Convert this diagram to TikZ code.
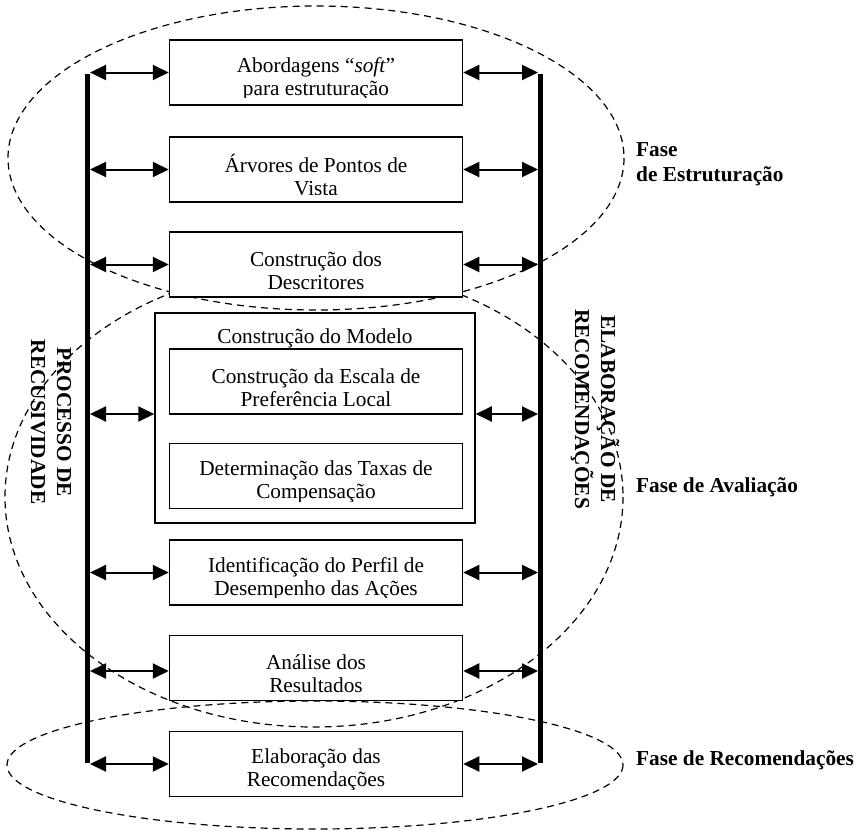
\documentclass[tikz,border=0pt]{standalone}
\usepackage{fontspec}
\setmainfont{Liberation Serif}
\usetikzlibrary{arrows.meta}
\begin{document}
\begin{tikzpicture}[x=1pt,y=-1pt,
  stepbox/.style={draw, line width=1.5pt, fill=white, minimum width=293pt,
    minimum height=65pt, inner sep=0pt},
  steptext/.style={inner sep=0pt, align=center,
    font=\fontsize{21.3}{23}\selectfont},
  modelbox/.style={draw, line width=1.5pt, fill=white, minimum width=320pt,
    minimum height=210pt, inner sep=0pt},
  boxtitle/.style={inner sep=0pt, font=\fontsize{21.3}{23}\selectfont},
  phase/.style={draw, dash pattern=on 7pt off 5pt, line width=1.2pt},
  sidebar/.style={line width=5pt},
  dblarrow/.style={line width=2pt,
    {Triangle[length=16pt,width=15pt]}-{Triangle[length=16pt,width=15pt]}},
  sidetext/.style={rotate=-90, align=center, inner sep=0pt,
    font=\fontsize{21.3}{26}\selectfont\bfseries},
  phaselabel/.style={inner sep=0pt, align=left,
    font=\fontsize{21.3}{25}\selectfont\bfseries}
]
\useasboundingbox (0,0) rectangle (859,830);

% a text set in a step box, cut off a little above the lower edge
\newcommand\boxtext[3]{%
  \begin{scope}
    \clip (#1.north west) rectangle ([yshift=8pt]#1.south east);
    \node[steptext] (#2) at ([yshift=-6pt]#1.center) {#3};
  \end{scope}}

% phase regions
\draw[phase] (316,158) ellipse [x radius=308, y radius=152];
\draw[phase] (314,497) ellipse [x radius=309, y radius=230];
\draw[phase] (315,765) ellipse [x radius=308, y radius=64];

% side labels along the bars
\node[sidetext] (proc) at (51,422) {PROCESSO DE\\RECUSIVIDADE};
\node[sidetext] (elab) at (595,409) {ELABORAÇÃO DE\\RECOMENDAÇÕES};

% vertical bars
\coordinate (ltop) at (87.5,74);
\coordinate (lbot) at (87.5,763);
\coordinate (rtop) at (540.5,74);
\coordinate (rbot) at (540.5,763);
\coordinate (lbar) at (90,0);
\coordinate (rbar) at (538,0);
\draw[sidebar] (ltop) -- (lbot);
\draw[sidebar] (rtop) -- (rbot);

% steps
\node[stepbox] (b1) at (316,72.5) {};
\boxtext{b1}{t1}{Abordagens “\textit{soft}”\\para estruturação}
\node[stepbox] (b2) at (316,169.5) {};
\boxtext{b2}{t2}{Árvores de Pontos de\\Vista}
\node[stepbox] (b3) at (316,264.5) {};
\boxtext{b3}{t3}{Construção dos\\Descritores}
\node[modelbox] (model) at (315,418) {};
\node[boxtitle] (mtitle) at (315,338) {Construção do Modelo};
\node[stepbox] (m1) at (316,381.5) {};
\boxtext{m1}{tm1}{Construção da Escala de\\Preferência Local}
\node[stepbox] (m2) at (316,476) {};
\boxtext{m2}{tm2}{Determinação das Taxas de\\Compensação}
\node[stepbox] (b4) at (316,572.5) {};
\boxtext{b4}{t4}{Identificação do Perfil de\\Desempenho das Ações}
\node[stepbox] (b5) at (316,668) {};
\boxtext{b5}{t5}{Análise dos\\Resultados}
\node[stepbox] (b6) at (316,764) {};
\boxtext{b6}{t6}{Elaboração das\\Recomendações}

% links between the steps and the bars
\foreach \n in {b1,b2,b3,b4,b6} {
  \draw[dblarrow] (\n.west -| lbar) -- (\n.west);
  \draw[dblarrow] (\n.east) -- (\n.east -| rbar);
}
\draw[dblarrow] ([yshift=4pt]model.west -| lbar) -- ([yshift=4pt]model.west);
\draw[dblarrow] ([yshift=4pt]model.east) -- ([yshift=4pt]model.east -| rbar);
\draw[dblarrow] ([yshift=-3pt]b5.west -| lbar) -- ([yshift=-3pt]b5.west);
\draw[dblarrow] ([yshift=-3pt]b5.east) -- ([yshift=-3pt]b5.east -| rbar);

% phase names
\node[phaselabel, anchor=west] (fe) at (636,164) {Fase\\de Estruturação};
\node[phaselabel, anchor=base west] (fa) at (636,492) {Fase de Avaliação};
\node[phaselabel, anchor=base west] (fr) at (636,765) {Fase de Recomendações};
\end{tikzpicture}
\end{document}
